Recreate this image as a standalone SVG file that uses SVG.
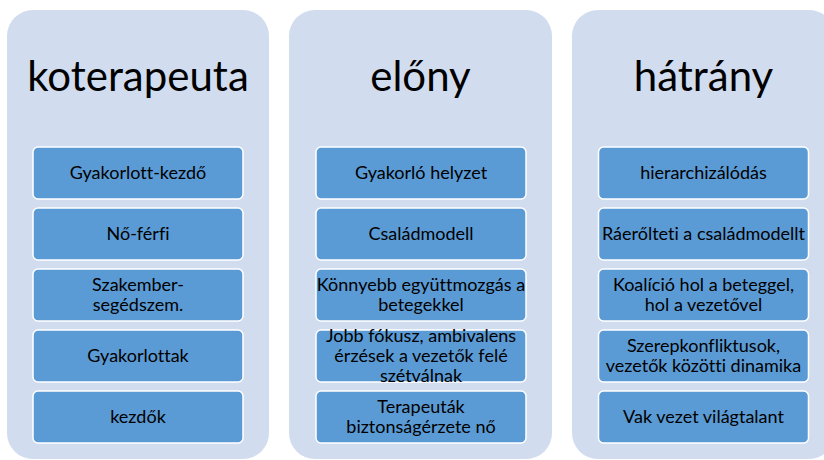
<svg xmlns="http://www.w3.org/2000/svg" width="824" height="460" viewBox="0 0 824 460">
<style>
.panel{fill:#D1DCEF;}
.head{font-family:Lato,"Open Sans","Liberation Sans",sans-serif;font-size:42px;fill:#000;text-anchor:middle;font-variant-ligatures:none;}
.box{fill:#5B9BD5;stroke:#FFFFFF;stroke-width:1.5;}
.t{font-family:Lato,"Open Sans","Liberation Sans",sans-serif;font-size:18px;fill:#000;text-anchor:middle;font-variant-ligatures:none;}
</style>
<rect width="824" height="460" fill="#FFFFFF"/>
<g id="panel-koterapeuta">
<rect class="panel" x="7" y="10" width="262" height="449" rx="26"/>
<text class="head" x="138" y="91">koterapeuta</text>
</g>
<g id="panel-elony">
<rect class="panel" x="289" y="10" width="263" height="449" rx="26"/>
<text class="head" x="420.5" y="91">előny</text>
</g>
<g id="panel-hatrany">
<rect class="panel" x="572" y="10" width="263" height="449" rx="26"/>
<text class="head" x="703.5" y="91">hátrány</text>
</g>
<g id="connectors"></g>
<g id="k1"><rect class="box" x="33" y="147" width="210" height="52" rx="5"/><text class="t" x="138" y="179">Gyakorlott-kezdő</text></g>
<g id="k2"><rect class="box" x="33" y="208" width="210" height="52" rx="5"/><text class="t" x="138" y="240">Nő-férfi</text></g>
<g id="k3"><rect class="box" x="33" y="269" width="210" height="52" rx="5"/><text class="t" x="138" y="291">Szakember-</text><text class="t" x="138" y="311">segédszem.</text></g>
<g id="k4"><rect class="box" x="33" y="330" width="210" height="52" rx="5"/><text class="t" x="138" y="362">Gyakorlottak</text></g>
<g id="k5"><rect class="box" x="33" y="391" width="210" height="52" rx="5"/><text class="t" x="138" y="423">kezdők</text></g>
<g id="e1"><rect class="box" x="316" y="147" width="210" height="52" rx="5"/><text class="t" x="421" y="179">Gyakorló helyzet</text></g>
<g id="e2"><rect class="box" x="316" y="208" width="210" height="52" rx="5"/><text class="t" x="421" y="240">Családmodell</text></g>
<g id="e3"><rect class="box" x="316" y="269" width="210" height="52" rx="5"/><text class="t" x="421" y="291">Könnyebb együttmozgás a</text><text class="t" x="421" y="311">betegekkel</text></g>
<g id="e4"><rect class="box" x="316" y="330" width="210" height="52" rx="5"/><text class="t" x="421" y="342">Jobb fókusz, ambivalens</text><text class="t" x="421" y="362">érzések a vezetők felé</text><text class="t" x="421" y="382">szétválnak</text></g>
<g id="e5"><rect class="box" x="316" y="391" width="210" height="52" rx="5"/><text class="t" x="421" y="413">Terapeuták</text><text class="t" x="421" y="433">biztonságérzete nő</text></g>
<g id="h1"><rect class="box" x="598.5" y="147" width="210" height="52" rx="5"/><text class="t" x="703.5" y="179">hierarchizálódás</text></g>
<g id="h2"><rect class="box" x="598.5" y="208" width="210" height="52" rx="5"/><text class="t" x="703.5" y="240">Ráerőlteti a családmodellt</text></g>
<g id="h3"><rect class="box" x="598.5" y="269" width="210" height="52" rx="5"/><text class="t" x="703.5" y="291">Koalíció hol a beteggel,</text><text class="t" x="703.5" y="311">hol a vezetővel</text></g>
<g id="h4"><rect class="box" x="598.5" y="330" width="210" height="52" rx="5"/><text class="t" x="703.5" y="352">Szerepkonfliktusok,</text><text class="t" x="703.5" y="372">vezetők közötti dinamika</text></g>
<g id="h5"><rect class="box" x="598.5" y="391" width="210" height="52" rx="5"/><text class="t" x="703.5" y="423">Vak vezet világtalant</text></g>
</svg>
